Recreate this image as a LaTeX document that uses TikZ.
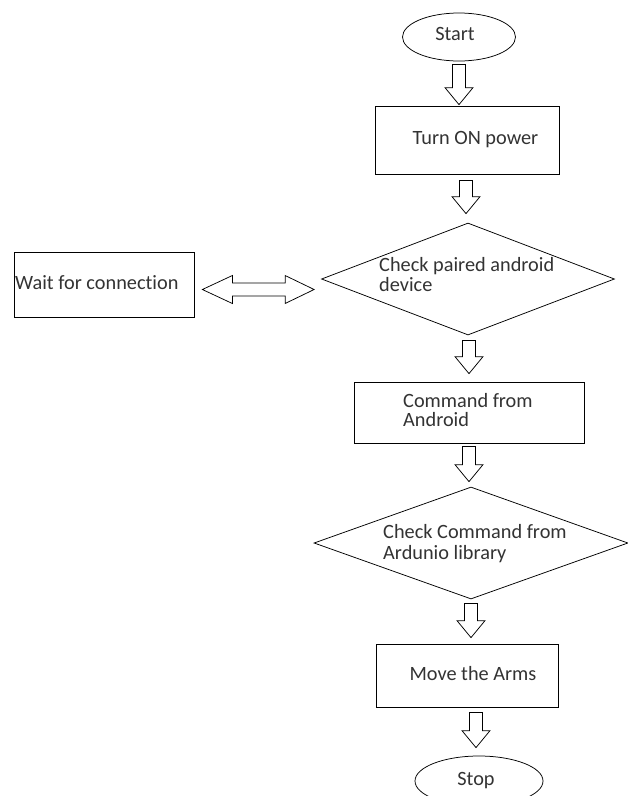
\documentclass[tikz,border=0pt]{standalone}
\usepackage{fontspec}
\setmainfont{Carlito}[Ligatures=NoCommon]
\usetikzlibrary{shapes.geometric,calc}
\newcommand\downblk[2]{%
  \draw[blk] let \p1=(#1), \p2=(#2) in
   (\x1-6.5pt,\y1) -- (\x1+6.5pt,\y1) -- (\x1+6.5pt,\y2+17pt) -- (\x1+14pt,\y2+17pt)
   -- (\x1,\y2) -- (\x1-14pt,\y2+17pt) -- (\x1-6.5pt,\y2+17pt) -- cycle;}
\begin{document}
\begin{tikzpicture}[x=1pt,y=-1pt,
  outl/.style={draw=black, line width=0.75pt, inner sep=0pt, fill=white},
  lbl/.style={text=black!80, font=\fontsize{20.3}{20}\selectfont, inner sep=0pt, anchor=base west},
  lblc/.style={lbl, anchor=base},
  blk/.style={draw=black, line width=0.75pt, fill=white, line join=miter}]
\useasboundingbox (0,0) rectangle (628,796);
\clip (0,0) rectangle (628,796);
\fill[white] (0,0) rectangle (628,796);

% shapes
\node[outl, ellipse, minimum width=113pt, minimum height=48pt] (start) at (459,37) {};
\node[outl, rectangle, minimum width=184pt, minimum height=68pt] (power) at (467,140) {};
\node[outl, rectangle, minimum width=180pt, minimum height=65pt] (wait) at (104,284.5) {};
\node[outl, diamond, minimum width=293pt, minimum height=112pt] (check) at (468,279) {};
\node[outl, rectangle, minimum width=230pt, minimum height=61pt] (cmd) at (469,412.5) {};
\node[outl, diamond, minimum width=314pt, minimum height=112pt] (lib) at (471,543) {};
\node[outl, rectangle, minimum width=182pt, minimum height=63pt] (move) at (467,675.5) {};
\node[outl, ellipse, minimum width=128pt, minimum height=50pt] (stop) at (479,781) {};

% texts
\node[lblc] (tstart) at (455,40) {Start};
\node[lblc] (tpower) at (475.5,144) {Turn ON power};
\node[lbl] (twait) at (15,289) {Wait for connection};
\node[lbl] (tcheck1) at (379,271.5) {Check paired android};
\node[lbl] (tcheck2) at (379,291) {device};
\node[lbl] (tcmd1) at (403,407) {Command from};
\node[lbl] (tcmd2) at (403,426.5) {Android};
\node[lbl] (tlib1) at (383,538) {Check Command from};
\node[lbl] (tlib2) at (383,559) {Ardunio library};
\node[lblc] (tmove) at (473,680) {Move the Arms};
\node[lblc] (tstop) at (476,785) {Stop};

% block arrow end points
\coordinate (a1t) at ([yshift=-3pt]start.south);
\coordinate (a1b) at ([yshift=1pt]power.north);
\coordinate (a2t) at ([yshift=-6pt,xshift=-1pt]power.south);
\coordinate (a2b) at ([yshift=9pt,xshift=-2pt]check.north);
\coordinate (a3t) at ([yshift=-5pt,xshift=1pt]check.south);
\coordinate (a3b) at ([yshift=8pt]cmd.north);
\coordinate (a4t) at ([yshift=-3pt]cmd.south);
\coordinate (a4b) at ([yshift=5pt]lib.north);
\coordinate (a5t) at ([yshift=-4pt]lib.south);
\coordinate (a5b) at ([yshift=6pt]move.north);
\coordinate (a6t) at ([yshift=-5pt,xshift=9pt]move.south);
\coordinate (a6b) at ([yshift=8pt]stop.north);

\downblk{a1t}{a1b}
\downblk{a2t}{a2b}
\downblk{a3t}{a3b}
\downblk{a4t}{a4b}
\downblk{a5t}{a5b}
\downblk{a6t}{a6b}

% double block arrow between wait and check
\coordinate (d1) at ([xshift=8pt,yshift=-5pt]wait.east);
\coordinate (d2) at ([xshift=-7pt]check.west);
\draw[blk] let \p1=(d1), \p2=(d2) in
  (\p1) -- (\x1+30pt,\y1+14pt) -- (\x1+30pt,\y1+6.5pt) -- (\x2-29pt,\y1+6.5pt)
  -- (\x2-29pt,\y1+14pt) -- (\x2,\y1) -- (\x2-29pt,\y1-14pt) -- (\x2-29pt,\y1-6.5pt)
  -- (\x1+30pt,\y1-6.5pt) -- (\x1+30pt,\y1-14pt) -- cycle;
\end{tikzpicture}
\end{document}
